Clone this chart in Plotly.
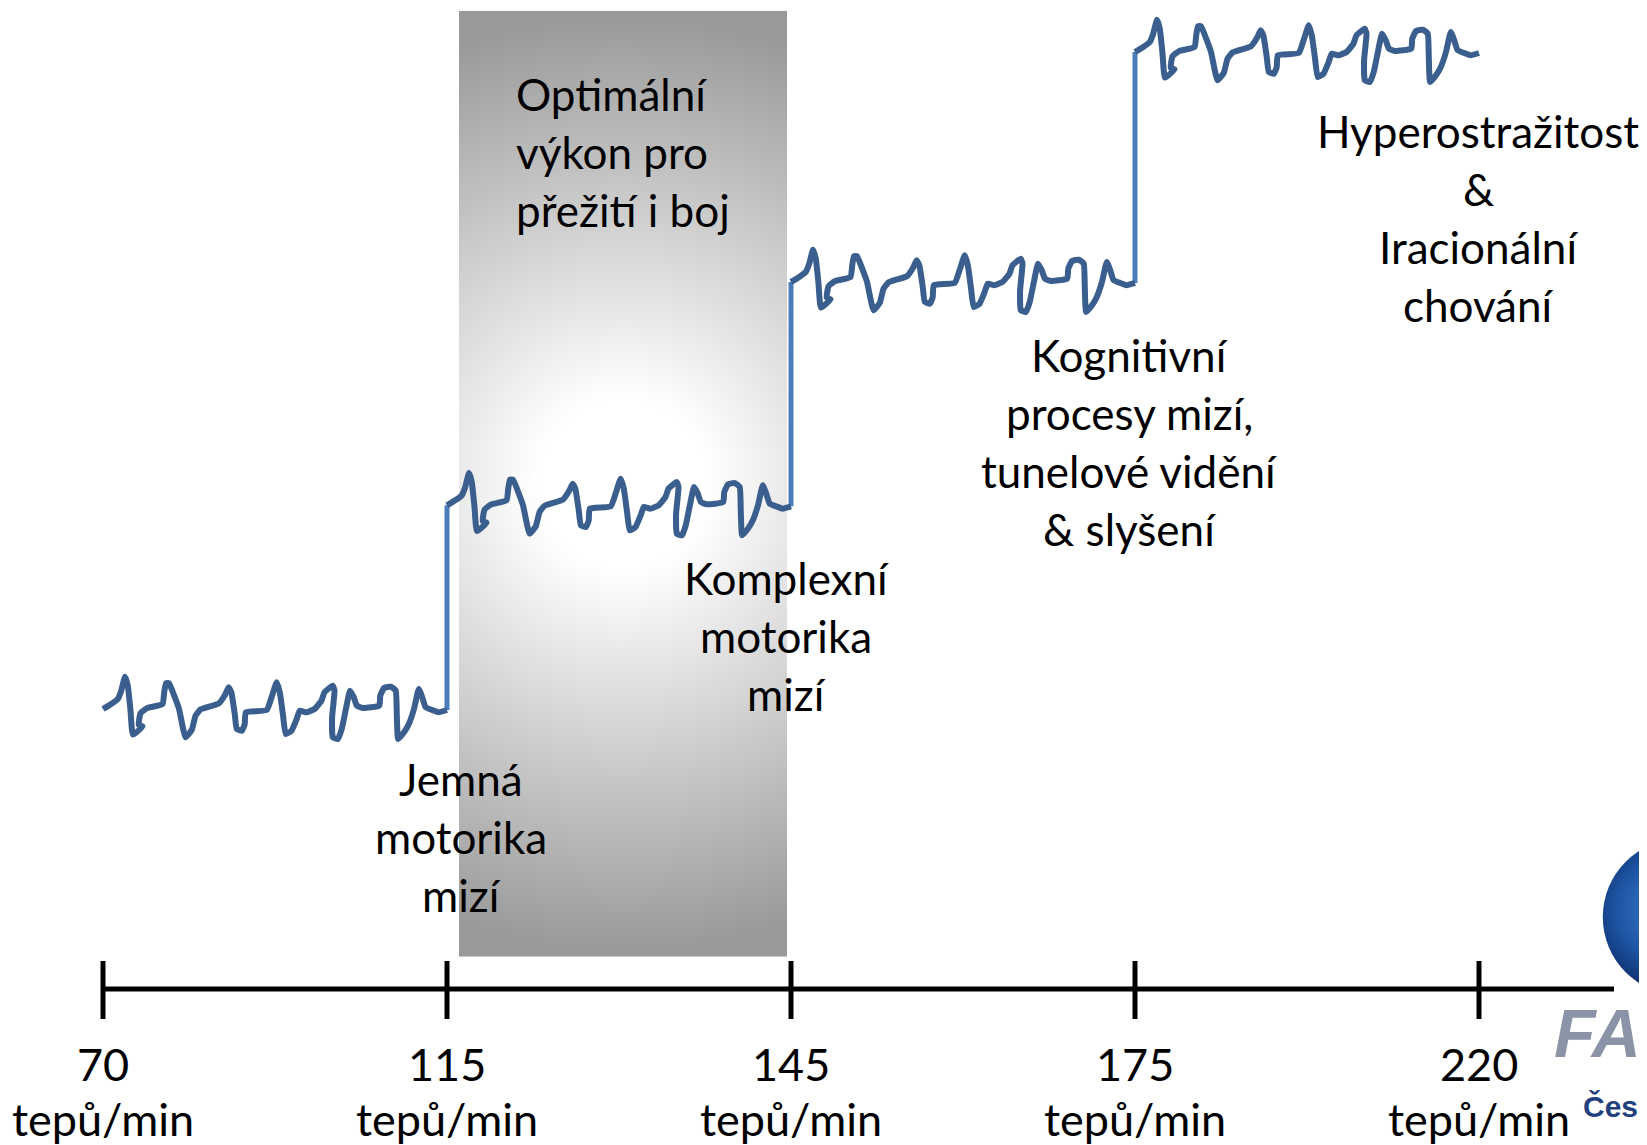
import base64
import plotly.graph_objects as go

# ---------------- data ----------------
heart_rates = [70, 115, 145, 175, 220]          # tick labels (tepů/min)
unit_label = "tepů/min"
stress_levels = [0.0, 0.93, 1.95, 3.0]          # relative level of each ECG segment

# one ECG period shape: t = fraction of segment, v = amplitude (px)
ecg_t = [0.000, 0.024, 0.043, 0.053, 0.064, 0.072, 0.080, 0.087, 0.115, 0.104, 0.109, 0.127,
         0.173, 0.178, 0.183, 0.192, 0.207, 0.221, 0.240, 0.258, 0.269, 0.284, 0.337, 0.356,
         0.365, 0.373, 0.383, 0.389, 0.404, 0.412, 0.415, 0.476, 0.490, 0.505, 0.514, 0.524,
         0.531, 0.548, 0.563, 0.572, 0.591, 0.615, 0.635, 0.644, 0.668, 0.673, 0.666, 0.668,
         0.683, 0.694, 0.707, 0.718, 0.729, 0.738, 0.755, 0.803, 0.806, 0.817, 0.837, 0.851,
         0.854, 0.858, 0.875, 0.889, 0.904, 0.918, 0.928, 0.938, 0.957, 0.976, 1.000]
ecg_v = [0.0, 5.0, 10.0, 18.3, 32.3, 23.3, -1.7, -25.7, -17.3, -15.7, -4.3, 0.7,
         5.0, 16.7, 25.7, 25.7, 13.3, 0.0, -28.3, -21.0, -6.7, -0.3, 5.7, 15.0,
         21.7, 16.7, -5.0, -20.0, -21.7, -15.0, -3.3, -1.0, 11.7, 26.7, 16.7, -8.3,
         -25.0, -21.7, -10.0, -1.7, -3.3, 0.0, 8.3, 16.7, 23.3, 18.3, -8.3, -28.3,
         -30.0, -20.0, 1.7, 18.3, 11.7, 3.3, 1.0, 3.3, 13.3, 21.0, 22.3, 18.3,
         -5.0, -30.0, -23.3, -15.0, 0.0, 20.0, 11.7, 1.7, -1.0, -3.3, -1.0]

zone_labels = [
    ["Jemná", "motorika", "mizí"],
    ["Komplexní", "motorika", "mizí"],
    ["Kognitivní", "procesy mizí,", "tunelové vidění", "& slyšení"],
    ["Hyperostražitost", "&", "Iracionální", "chování"],
]
optimal_label = ["Optimální", "výkon pro", "přežití i boj"]

# ---------------- geometry / style ----------------
W, H = 1647, 1145
OFF = 8          # page body margin: figure starts at page (8, 8)
PX_X = 344.0     # px per tick step
X0 = 103.0       # page px of first tick
PX_Y = 219.0     # px per level unit
Y0 = 709.0       # page px of level 0


def xd(px):
    return (px - X0) / PX_X


def yd(py):
    return (Y0 - py) / PX_Y


def xp(px):
    return (px - OFF) / W


def yp(py):
    return 1 - (py - OFF) / H


FONT = "Lato, Calibri, Carlito, sans-serif"
ECG_COLOR = "#3a5f8e"
JUMP_COLOR = "#4a7ebb"

fig = go.Figure()

# vertical jumps between levels
for k in range(len(stress_levels) - 1):
    fig.add_trace(go.Scatter(
        x=[k + 1, k + 1],
        y=[stress_levels[k] + ecg_v[-1] / PX_Y, stress_levels[k + 1]],
        mode="lines", line=dict(color=JUMP_COLOR, width=5),
        hoverinfo="skip"))

# ECG segments
for k, lvl in enumerate(stress_levels):
    fig.add_trace(go.Scatter(
        x=[k + t for t in ecg_t],
        y=[lvl + v / PX_Y for v in ecg_v],
        mode="lines", line=dict(color=ECG_COLOR, width=6, shape="spline", smoothing=0.4),
        hoverinfo="skip"))

# axis line + ticks
n = len(heart_rates)
fig.add_trace(go.Scatter(x=[0, xd(1614)], y=[yd(989), yd(989)], mode="lines",
                         line=dict(color="black", width=5), hoverinfo="skip"))
tx, ty = [], []
for i in range(n):
    tx += [i, i, None]
    ty += [yd(961), yd(1019), None]
fig.add_trace(go.Scatter(x=tx, y=ty, mode="lines", line=dict(color="black", width=5),
                         hoverinfo="skip"))

annotations = []
for i, hr in enumerate(heart_rates):
    annotations.append(dict(x=i, y=yd(1064), text=str(hr), showarrow=False,
                            xanchor="center", yanchor="middle",
                            font=dict(family=FONT, size=45, color="black")))
    annotations.append(dict(x=i, y=yd(1119), text=unit_label, showarrow=False,
                            xanchor="center", yanchor="middle",
                            font=dict(family=FONT, size=45, color="black")))

# zone labels (centred)
label_pos = [(461, 779), (786, 578), (1129, 355), (1478, 131)]
LINE = 58
LFS = 44
for lines, (cx, cy) in zip(zone_labels, label_pos):
    for j, t in enumerate(lines):
        annotations.append(dict(x=xd(cx), y=yd(cy + j * LINE), text=t, showarrow=False,
                                xanchor="center", yanchor="middle",
                                font=dict(family=FONT, size=LFS, color="black")))
for j, t in enumerate(optimal_label):
    annotations.append(dict(x=xd(514), y=yd(94 + j * LINE), text=t, showarrow=False,
                            xanchor="left", yanchor="middle",
                            font=dict(family=FONT, size=LFS, color="black")))

# logo fragment
annotations.append(dict(xref="paper", yref="paper", x=xp(1552), y=yp(1033), text="<b><i>FA</i></b>",
                        showarrow=False, xanchor="left", yanchor="middle",
                        font=dict(family="Liberation Sans", size=68, color="#8b93a6")))
annotations.append(dict(xref="paper", yref="paper", x=xp(1581), y=yp(1106), text="<b>Česk</b>",
                        showarrow=False, xanchor="left", yanchor="middle",
                        font=dict(family="Liberation Sans", size=30, color="#1f3f7f")))

# gradient band image
rw, rh = 328, 946
svg_band = (f"<svg xmlns='http://www.w3.org/2000/svg' width='{rw}' height='{rh}' viewBox='0 0 {rw} {rh}' "
            f"preserveAspectRatio='none'><defs><radialGradient id='g' gradientUnits='userSpaceOnUse' "
            f"cx='{rw/2}' cy='{rh/2}' r='470'><stop offset='0.18' stop-color='#ffffff'/>"
            f"<stop offset='1' stop-color='#999999'/></radialGradient></defs>"
            f"<rect width='{rw}' height='{rh}' fill='url(#g)'/></svg>")
svg_globe = ("<svg xmlns='http://www.w3.org/2000/svg' width='200' height='200' viewBox='0 0 200 200'>"
             "<defs><radialGradient id='b' cx='0.42' cy='0.45' r='0.6'>"
             "<stop offset='0' stop-color='#3d7fcf'/><stop offset='0.55' stop-color='#1e55a3'/>"
             "<stop offset='0.9' stop-color='#0c2c6a'/><stop offset='1' stop-color='#6aa6e0'/>"
             "</radialGradient></defs><circle cx='100' cy='100' r='99' fill='url(#b)'/></svg>")


def uri(s):
    return "data:image/svg+xml;base64," + base64.b64encode(s.encode()).decode()


images = [
    dict(source=uri(svg_band), xref="x", yref="y", x=xd(459), y=yd(10.7),
         sizex=rw / PX_X, sizey=rh / PX_Y, xanchor="left", yanchor="top",
         sizing="stretch", layer="below"),
    dict(source=uri(svg_globe), xref="paper", yref="paper", x=xp(1602), y=yp(838),
         sizex=158 / W, sizey=158 / H, xanchor="left", yanchor="top",
         sizing="stretch", layer="below"),
]

fig.update_layout(
    width=W, height=H, margin=dict(l=0, r=0, t=0, b=0),
    paper_bgcolor="white", plot_bgcolor="rgba(0,0,0,0)",
    showlegend=False,
    xaxis=dict(range=[xd(OFF), xd(OFF + W)], visible=False, fixedrange=True),
    yaxis=dict(range=[yd(OFF + H), yd(OFF)], visible=False, fixedrange=True),
    annotations=annotations, images=images,
)

fig.write_html("out.html")
